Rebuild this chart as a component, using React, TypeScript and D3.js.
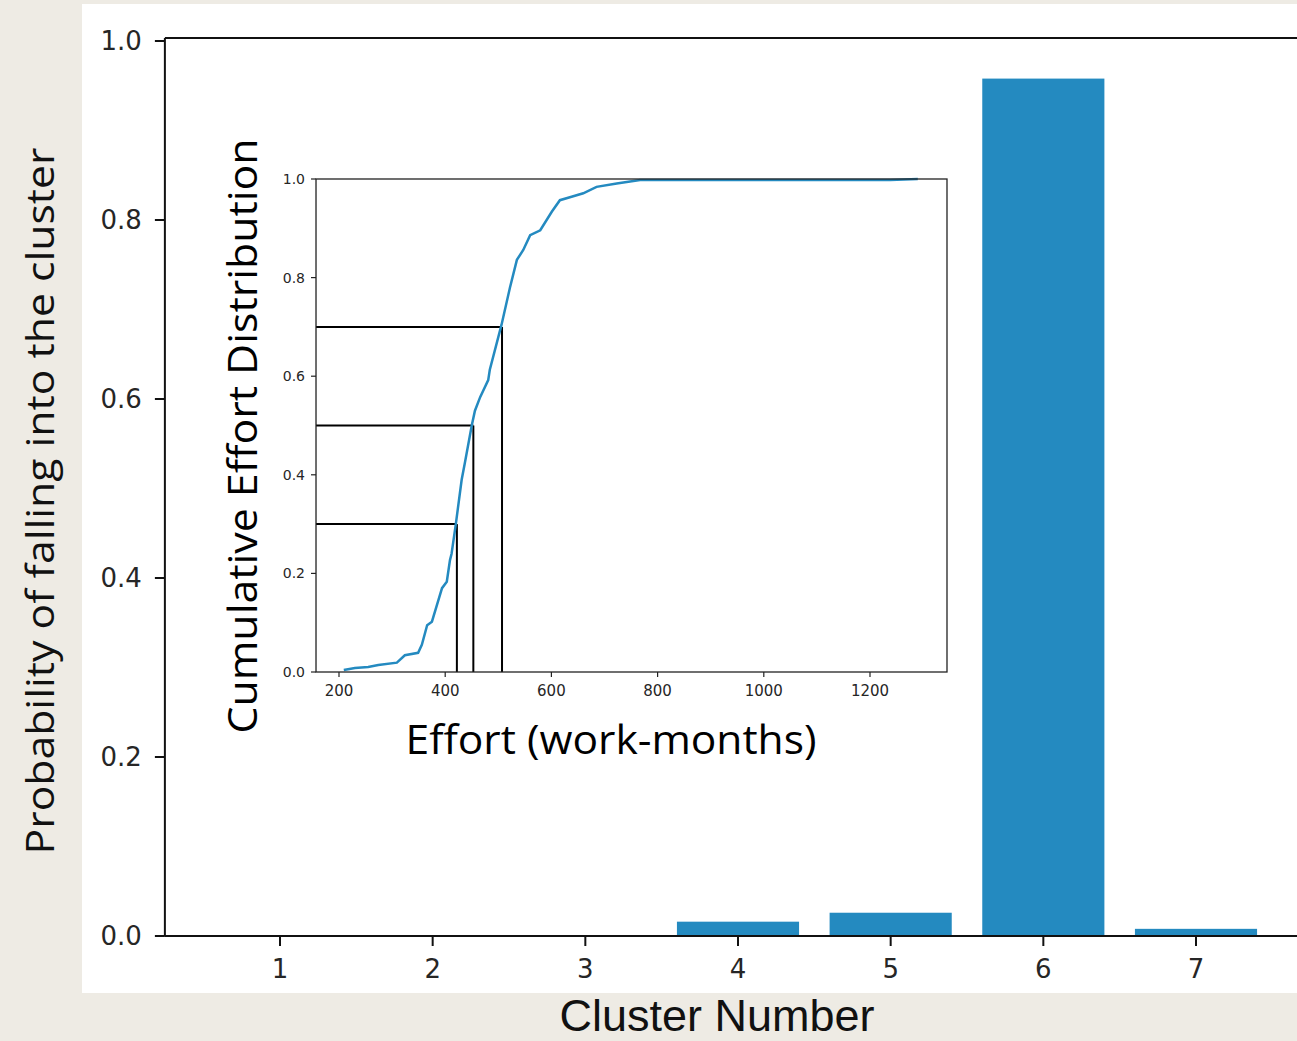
import React from "react";
import * as d3 from "d3";

// main bar chart: probability per cluster
const clusters = [1, 2, 3, 4, 5, 6, 7];
const probabilities = [0, 0, 0, 0.016, 0.026, 0.958, 0.008];
const mainYTicks = [0, 0.2, 0.4, 0.6, 0.8, 1.0];

// inset: cumulative effort distribution
const effort = [
  209, 230, 255, 274, 309, 324, 349, 356, 366, 375, 394, 403, 409, 412, 420,
  431, 437, 450, 456, 466, 481, 484, 506, 522, 535, 547, 560, 579, 601, 616,
  638, 660, 685, 723, 767, 1238, 1290,
];
const cumulative = [
  0.004, 0.008, 0.01, 0.014, 0.019, 0.034, 0.039, 0.055, 0.095, 0.102, 0.17,
  0.183, 0.227, 0.24, 0.3, 0.39, 0.424, 0.5, 0.53, 0.558, 0.592, 0.613, 0.704,
  0.78, 0.836, 0.856, 0.886, 0.896, 0.934, 0.957, 0.964, 0.971, 0.984, 0.991,
  0.998, 0.998, 1.0,
];
const insetXTicks = [200, 400, 600, 800, 1000, 1200];
const insetYTicks = [0, 0.2, 0.4, 0.6, 0.8, 1.0];
// quantile markers
const markerLevels = [0.3, 0.5, 0.7];
const markerEffort = [422, 453, 507];

const W = 1297;
const H = 1041;
const BLUE = "#248ac0";
const TICK = "#262626";

export default function App() {
  // main axes
  const x = d3.scaleLinear().domain([1, 7]).range([280, 1196]);
  const y = d3.scaleLinear().domain([0, 1]).range([936, 41]);
  const left = x(0.246);
  const top = 38;
  const bottom = y(0);
  const barW = x(1.8) - x(1);

  // inset axes
  const ix = d3.scaleLinear().domain([200, 1200]).range([339, 870]);
  const iy = d3.scaleLinear().domain([0, 1]).range([672, 179]);
  const [iL, iR] = [ix(156.7), ix(1345)];
  const [iB, iT] = [iy(0), iy(1)];

  const pts: [number, number][] = effort.map((e, i) => [e, cumulative[i]]);
  const curve = d3
    .line<[number, number]>()
    .x((d) => ix(d[0]))
    .y((d) => iy(d[1]));

  return (
    <div style={{ position: "absolute", left: 0, top: 0 }}>
      <svg width={W} height={H} style={{ display: "block" }}>
        <rect x={0} y={0} width={W} height={H} fill="#eeebe4" />
        <rect x={82} y={4} width={W - 82} height={989} fill="#ffffff" />

        {/* bars */}
        {clusters.map((c, i) => (
          <rect
            key={c}
            x={x(c) - barW / 2}
            y={y(probabilities[i])}
            width={barW}
            height={bottom - y(probabilities[i])}
            fill={BLUE}
          />
        ))}

        {/* main spines */}
        <line x1={left} x2={left} y1={top} y2={bottom} stroke="#111" strokeWidth={2} />
        <line x1={left} x2={W} y1={bottom} y2={bottom} stroke="#111" strokeWidth={2} />
        <line x1={left} x2={W} y1={top} y2={top} stroke="#111" strokeWidth={2} />

        {/* main y ticks */}
        {mainYTicks.map((t) => (
          <g key={t}>
            <line x1={left - 10} x2={left} y1={y(t)} y2={y(t)} stroke="#111" strokeWidth={2} />
            <text
              x={left - 23}
              y={y(t)}
              dy="0.35em"
              textAnchor="end"
              fontFamily="DejaVu Sans"
              fontSize={26}
              fill={TICK}
            >
              {t.toFixed(1)}
            </text>
          </g>
        ))}

        {/* main x ticks */}
        {clusters.map((c) => (
          <g key={c}>
            <line x1={x(c)} x2={x(c)} y1={bottom} y2={bottom + 10} stroke="#111" strokeWidth={2} />
            <text
              x={x(c)}
              y={bottom + 42}
              textAnchor="middle"
              fontFamily="DejaVu Sans"
              fontSize={26}
              fill={TICK}
            >
              {c}
            </text>
          </g>
        ))}

        <text
          transform={`translate(54,501) rotate(-90)`}
          textAnchor="middle"
          fontFamily="Open Sans"
          fontSize={38}
          fill="#111"
          textLength={707}
          lengthAdjust="spacingAndGlyphs"
        >
          Probability of falling into the cluster
        </text>
        <text
          x={717}
          y={1031}
          textAnchor="middle"
          fontFamily="Liberation Sans Narrow, Liberation Sans"
          fontSize={44}
          fill="#111"
          textLength={315}
          lengthAdjust="spacingAndGlyphs"
        >
          Cluster Number
        </text>

        {/* inset */}
        <rect x={iL} y={iT} width={iR - iL} height={iB - iT} fill="#ffffff" />
        {markerLevels.map((lv, i) => (
          <g key={lv}>
            <line
              x1={iL}
              x2={ix(markerEffort[i])}
              y1={iy(lv)}
              y2={iy(lv)}
              stroke="#000"
              strokeWidth={2}
            />
            <line
              x1={ix(markerEffort[i])}
              x2={ix(markerEffort[i])}
              y1={iy(lv)}
              y2={iB}
              stroke="#000"
              strokeWidth={2}
            />
          </g>
        ))}
        <path d={curve(pts) ?? ""} fill="none" stroke={BLUE} strokeWidth={2.5} />
        <rect
          x={iL}
          y={iT}
          width={iR - iL}
          height={iB - iT}
          fill="none"
          stroke="#222"
          strokeWidth={1.3}
        />
        {insetXTicks.map((t) => (
          <g key={t}>
            <line x1={ix(t)} x2={ix(t)} y1={iB} y2={iB + 5} stroke="#222" strokeWidth={1.2} />
            <text
              x={ix(t)}
              y={iB + 24}
              textAnchor="middle"
              fontFamily="DejaVu Sans"
              fontSize={15}
              fill={TICK}
            >
              {t}
            </text>
          </g>
        ))}
        {insetYTicks.map((t) => (
          <g key={t}>
            <line x1={iL - 5} x2={iL} y1={iy(t)} y2={iy(t)} stroke="#222" strokeWidth={1.2} />
            <text
              x={iL - 11}
              y={iy(t)}
              dy="0.35em"
              textAnchor="end"
              fontFamily="DejaVu Sans"
              fontSize={14}
              fill={TICK}
            >
              {t.toFixed(1)}
            </text>
          </g>
        ))}
        <text
          transform={`translate(257,436) rotate(-90)`}
          textAnchor="middle"
          fontFamily="Open Sans"
          fontSize={40}
          fill="#000"
          textLength={595}
          lengthAdjust="spacingAndGlyphs"
        >
          Cumulative Effort Distribution
        </text>
        <text
          x={611}
          y={754}
          textAnchor="middle"
          fontFamily="Open Sans"
          fontSize={40}
          fill="#000"
          textLength={411}
          lengthAdjust="spacingAndGlyphs"
        >
          Effort (work-months)
        </text>
      </svg>
    </div>
  );
}
